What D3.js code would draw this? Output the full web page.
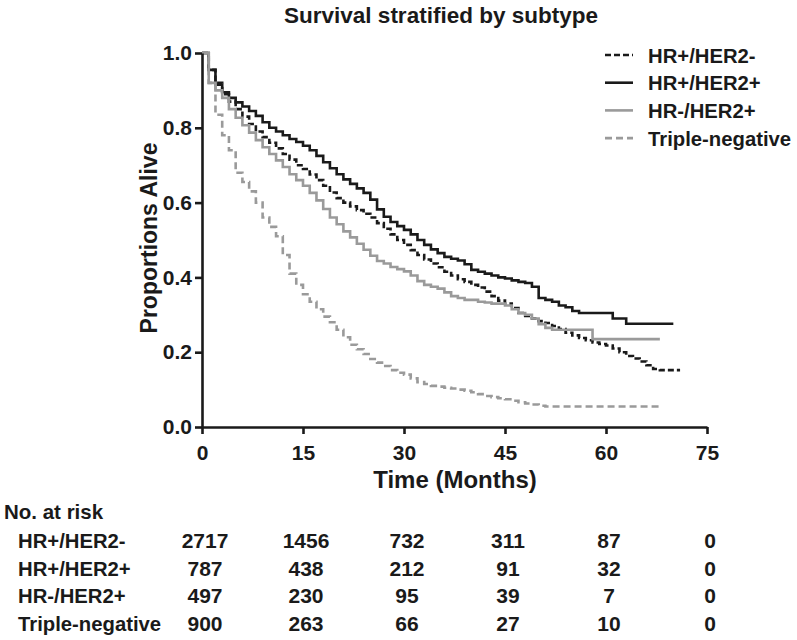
<!DOCTYPE html>
<html><head><meta charset="utf-8">
<script src="https://cdn.jsdelivr.net/npm/d3@7"></script>
<style>
body{margin:0;background:#fff}
text{font-family:Arial,"Liberation Sans",sans-serif;font-weight:bold;fill:#1a1a1a}
</style>
</head><body>
<svg id="chart" width="797" height="640"></svg>
<script>
// ---- data ----
const seriesNames = ["HR+/HER2-", "HR+/HER2+", "HR-/HER2+", "Triple-negative"];
// survival proportion at month index 0,1,2,...
const survHRposHER2neg = [1.0,0.955,0.92,0.89,0.87,0.85,0.83,0.81,0.79,0.775,0.76,0.745,0.73,0.715,0.70,0.69,0.675,0.66,0.645,0.627,0.612,0.60,0.59,0.58,0.57,0.56,0.545,0.53,0.515,0.50,0.487,0.473,0.46,0.448,0.437,0.427,0.415,0.405,0.395,0.388,0.38,0.373,0.362,0.35,0.338,0.33,0.318,0.305,0.297,0.29,0.283,0.278,0.27,0.262,0.252,0.245,0.238,0.232,0.226,0.222,0.218,0.21,0.20,0.19,0.183,0.175,0.165,0.155,0.152,0.152,0.152,0.152];
const survHRposHER2pos = [1.0,0.955,0.915,0.895,0.88,0.868,0.857,0.845,0.832,0.815,0.80,0.79,0.78,0.77,0.762,0.752,0.74,0.725,0.708,0.692,0.676,0.662,0.65,0.638,0.626,0.608,0.582,0.562,0.548,0.537,0.527,0.515,0.50,0.487,0.475,0.465,0.455,0.45,0.445,0.435,0.42,0.415,0.41,0.405,0.40,0.397,0.392,0.388,0.385,0.375,0.345,0.34,0.335,0.325,0.32,0.31,0.305,0.305,0.305,0.305,0.305,0.29,0.29,0.276,0.276,0.276,0.276,0.276,0.276,0.276,0.276];
const survHRnegHER2pos = [1.0,0.92,0.90,0.88,0.85,0.827,0.807,0.787,0.767,0.748,0.73,0.713,0.695,0.676,0.66,0.645,0.626,0.606,0.583,0.56,0.542,0.523,0.507,0.49,0.474,0.458,0.444,0.437,0.428,0.422,0.416,0.405,0.39,0.38,0.375,0.37,0.36,0.35,0.345,0.34,0.34,0.335,0.333,0.33,0.33,0.325,0.315,0.305,0.30,0.29,0.275,0.265,0.26,0.26,0.26,0.26,0.26,0.26,0.235,0.235,0.235,0.235,0.235,0.235,0.235,0.235,0.235,0.235,0.235];
const survTripleNeg = [1.0,0.92,0.835,0.78,0.74,0.68,0.655,0.63,0.60,0.56,0.535,0.51,0.46,0.41,0.38,0.355,0.335,0.315,0.295,0.28,0.26,0.24,0.22,0.208,0.195,0.182,0.172,0.163,0.152,0.145,0.14,0.13,0.12,0.115,0.11,0.108,0.105,0.103,0.10,0.097,0.093,0.088,0.083,0.08,0.077,0.074,0.07,0.066,0.063,0.06,0.057,0.055,0.055,0.055,0.055,0.055,0.055,0.055,0.055,0.055,0.055,0.055,0.055,0.055,0.055,0.055,0.055,0.055,0.055];

const xTicks = [0, 15, 30, 45, 60, 75];
const yTicks = [0.0, 0.2, 0.4, 0.6, 0.8, 1.0];

const riskTimes = [0, 15, 30, 45, 60, 75];
const riskHRposHER2neg = [2717, 1456, 732, 311, 87, 0];
const riskHRposHER2pos = [787, 438, 212, 91, 32, 0];
const riskHRnegHER2pos = [497, 230, 95, 39, 7, 0];
const riskTripleNeg = [900, 263, 66, 27, 10, 0];

// ---- styling ----
const BLACK = "#1a1a1a", GRAY = "#9a9a9a";
const FONT = "Arial, 'Liberation Sans', sans-serif";
const styles = [
  {color: BLACK, dash: "6,3"},
  {color: BLACK, dash: null},
  {color: GRAY, dash: null},
  {color: GRAY, dash: "7,4"}
];
const survival = [survHRposHER2neg, survHRposHER2pos, survHRnegHER2pos, survTripleNeg];
const risks = [riskHRposHER2neg, riskHRposHER2pos, riskHRnegHER2pos, riskTripleNeg];

const svg = d3.select("#chart");
const x = d3.scaleLinear().domain([0, 75]).range([202, 707]);
const y = d3.scaleLinear().domain([0, 1]).range([427, 53]);

// title
svg.append("text").attr("x", 441).attr("y", 23).attr("text-anchor", "middle")
  .style("font-size", "22.5px").text("Survival stratified by subtype");

// curves
const line = d3.line().x((d, i) => x(i)).y(d => y(d)).curve(d3.curveStepAfter);
survival.forEach((s, k) => {
  svg.append("path").datum(s).attr("d", line)
    .attr("fill", "none").attr("stroke", styles[k].color)
    .attr("stroke-width", 2.6)
    .attr("stroke-dasharray", styles[k].dash);
});

// axes
const xAxis = svg.append("g").attr("transform", "translate(0,427)")
  .call(d3.axisBottom(x).tickValues(xTicks).tickSize(7).tickSizeOuter(0).tickPadding(11));
const yAxis = svg.append("g").attr("transform", "translate(202,0)")
  .call(d3.axisLeft(y).tickValues(yTicks).tickFormat(d3.format(".1f")).tickSize(7).tickSizeOuter(0).tickPadding(3));
[xAxis, yAxis].forEach(g => {
  g.select(".domain").attr("stroke", BLACK).attr("stroke-width", 2.6);
  g.selectAll(".tick line").attr("stroke", BLACK).attr("stroke-width", 2.6);
  g.selectAll(".tick text").style("font-size", "21px").style("font-family", FONT).style("font-weight", "bold").attr("fill", BLACK);
});

// axis labels
svg.append("text").attr("transform", "translate(157,238) rotate(-90)")
  .attr("text-anchor", "middle").style("font-size", "23px").text("Proportions Alive");
svg.append("text").attr("x", 455).attr("y", 488).attr("text-anchor", "middle")
  .style("font-size", "24px").text("Time (Months)");

// legend
seriesNames.forEach((name, k) => {
  const ly = 55 + k * 27.7;
  svg.append("line").attr("x1", 605).attr("x2", 633).attr("y1", ly).attr("y2", ly)
    .attr("stroke", styles[k].color).attr("stroke-width", 2.6)
    .attr("stroke-dasharray", styles[k].dash);
  svg.append("text").attr("x", 648).attr("y", ly + 7.5).style("font-size", "20.3px").text(name);
});

// number at risk table
svg.append("text").attr("x", 4).attr("y", 519).style("font-size", "20.5px").text("No. at risk");
seriesNames.forEach((name, k) => {
  const ry = 548 + k * 27.7;
  svg.append("text").attr("x", 18).attr("y", ry).style("font-size", "20.3px").text(name);
  risks[k].forEach((v, j) => {
    svg.append("text").attr("x", x(riskTimes[j]) + 3).attr("y", ry)
      .attr("text-anchor", "middle").style("font-size", "21px").text(v);
  });
});
</script>
</body></html>
